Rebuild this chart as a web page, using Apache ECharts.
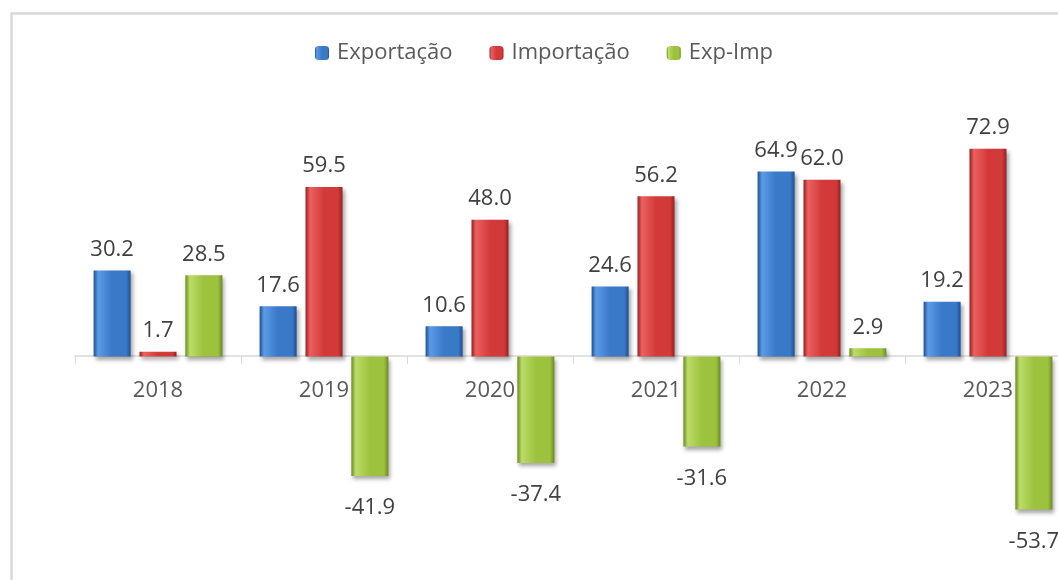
<!DOCTYPE html>
<html>
<head>
<meta charset="utf-8">
<script src="https://cdn.jsdelivr.net/npm/echarts@6/dist/echarts.min.js"></script>
<style>
  html, body { margin: 0; padding: 0; background: #fff; }
  #chart { width: 1058px; height: 580px; }
</style>
</head>
<body>
<div id="chart"></div>
<script>
const years = ['2018', '2019', '2020', '2021', '2022', '2023']
const exportacao = [30.2, 17.6, 10.6, 24.6, 64.9, 19.2]
const importacao = [1.7, 59.5, 48.0, 56.2, 62.0, 72.9]
const expImp = [28.5, -41.9, -37.4, -31.6, 2.9, -53.7]

const FONT = '"Open Sans", "DejaVu Sans", sans-serif'

// horizontal gradient to fake the bevelled excel bars
function bevel(dark, light, mid) {
  return new echarts.graphic.LinearGradient(0, 0, 1, 0, [
    { offset: 0, color: dark },
    { offset: 0.12, color: light },
    { offset: 0.5, color: mid },
    { offset: 0.88, color: mid },
    { offset: 1, color: dark }
  ])
}

function makeSeries(name, values, colors) {
  return {
    name: name,
    type: 'bar',
    barWidth: 37,
    barGap: '24%',
    data: values.map(v => ({
      value: v,
      label: { position: v < 0 ? 'bottom' : 'top', distance: v < 0 ? 21 : 10 }
    })),
    itemStyle: {
      color: bevel(colors[0], colors[1], colors[2]),
      shadowColor: 'rgba(0,0,0,0.35)',
      shadowBlur: 4,
      shadowOffsetX: 2,
      shadowOffsetY: 3
    },
    label: {
      show: true,
      fontFamily: FONT,
      fontSize: 22,
      color: '#404040',
      formatter: p => p.value.toFixed(1)
    }
  }
}

const chart = echarts.init(document.getElementById('chart'))
chart.setOption({
  animation: false,
  backgroundColor: '#fff',
  graphic: [{
    type: 'rect',
    left: 9,
    top: 11,
    shape: { width: 1200, height: 700 },
    style: { fill: 'none', stroke: '#d9d9d9', lineWidth: 2.5 },
    silent: true,
    z: -1
  }],
  legend: {
    left: 310,
    top: 37,
    itemWidth: 14,
    itemHeight: 14,
    itemGap: 37,
    textStyle: { fontFamily: FONT, fontSize: 22, color: '#595959', padding: [0, 0, 0, 3] },
    data: ['Exportação', 'Importação', 'Exp-Imp']
  },
  grid: { left: 75, top: 100, width: 996, height: 456, outerBoundsMode: 'none', containLabel: false },
  xAxis: {
    type: 'category',
    data: years,
    offset: -200,
    axisLine: { onZero: false, lineStyle: { color: '#d9d9d9', width: 1.5 } },
    axisTick: { show: true, length: 8, lineStyle: { color: '#d9d9d9' } },
    axisLabel: { fontFamily: FONT, fontSize: 22, color: '#595959', margin: 24 },
    z: 1
  },
  yAxis: {
    type: 'value',
    min: -70,
    max: 90,
    show: false,
    splitLine: { show: false }
  },
  series: [
    makeSeries('Exportação', exportacao, ['#1f4f91', '#5b9be6', '#3a78c8']),
    makeSeries('Importação', importacao, ['#952020', '#ec6060', '#d23a3a']),
    makeSeries('Exp-Imp', expImp, ['#6b8a22', '#bddc68', '#9cc23e'])
  ]
})
</script>
</body>
</html>
